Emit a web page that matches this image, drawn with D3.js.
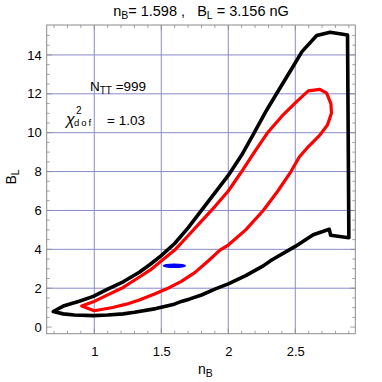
<!DOCTYPE html>
<html>
<head>
<meta charset="utf-8">
<script src="https://cdn.jsdelivr.net/npm/d3@7"></script>
<style>
  body { margin: 0; background: #fff; }
  svg text { font-family: "Liberation Sans", Arial, Helvetica, sans-serif; fill: #000; }
</style>
</head>
<body>
<div id="chart"></div>
<script>
// outer (black) contour
var blackNB = [0.694, 0.769, 0.888, 0.993, 1.10, 1.216, 1.336, 1.416, 1.50, 1.60, 1.70, 1.80, 1.90, 2.0, 2.10, 2.19, 2.287, 2.386, 2.47, 2.55, 2.66, 2.76, 2.89,
               2.90, 2.764, 2.754, 2.634, 2.50, 2.324, 2.261, 2.13, 2.0, 1.90, 1.80, 1.714, 1.65, 1.597, 1.46, 1.30, 1.216, 1.10, 0.993, 0.85, 0.769];
var blackBL = [0.80, 1.08, 1.33, 1.58, 1.95, 2.33, 2.82, 3.22, 3.68, 4.30, 5.10, 6.00, 6.90, 7.80, 8.85, 9.95, 11.17, 12.30, 13.25, 14.17, 15.0, 15.17, 15.03,
               4.60, 4.72, 5.03, 4.75, 4.15, 3.45, 3.15, 2.65, 2.22, 1.95, 1.65, 1.45, 1.32, 1.18, 0.95, 0.76, 0.68, 0.62, 0.59, 0.62, 0.68];

// inner (red) contour
var redNB = [0.906, 0.993, 1.10, 1.216, 1.311, 1.416, 1.50, 1.60, 1.70, 1.80, 1.90, 2.0, 2.09, 2.19, 2.29, 2.40, 2.51, 2.597, 2.684, 2.734, 2.766, 2.77, 2.74, 2.68, 2.60, 2.53, 2.468, 2.37, 2.261, 2.13, 2.0, 1.938, 1.85, 1.75, 1.65, 1.55, 1.45, 1.336, 1.24, 1.137, 1.0];
var redBL = [1.08, 1.30, 1.66, 2.04, 2.46, 2.93, 3.40, 3.96, 4.70, 5.45, 6.20, 7.0, 7.9, 8.95, 9.97, 10.85, 11.6, 12.15, 12.23, 12.03, 11.5, 11.0, 10.4, 9.85, 9.3, 8.75, 8.0, 7.0, 6.0, 5.0, 4.22, 3.96, 3.4, 2.8, 2.35, 2.0, 1.7, 1.39, 1.18, 1.01, 0.84];

// best fit point and its spread
var bestNB = 1.598, bestBL = 3.156;
var errNB = 0.087, errBL = 0.12;

var xTicks = [1, 1.5, 2, 2.5];
var xTickLabels = ["1", "1.5", "2", "2.5"];
var yTicks = [0, 2, 4, 6, 8, 10, 12, 14];
var yTickLabels = ["0", "2", "4", "6", "8", "10", "12", "14"];

var W = 382, H = 382;
var m = {left: 46.7, right: 26.7, top: 25, bottom: 48.3};

var svg = d3.select("#chart").append("svg")
    .attr("width", W).attr("height", H);

var x = d3.scaleLinear().domain([0.645, 2.948]).range([m.left, W - m.right]);
var y = d3.scaleLinear().domain([-0.34, 15.54]).range([H - m.bottom, m.top]);

var gridCol = "#8a8ac8";
var frameCol = "#8c8c8c";

// grid
svg.append("g").selectAll("line.gx")
    .data(xTicks).enter().append("line")
    .attr("x1", function(d) { return x(d); }).attr("x2", function(d) { return x(d); })
    .attr("y1", y.range()[0]).attr("y2", y.range()[1])
    .attr("stroke", gridCol).attr("stroke-width", 1);
svg.append("g").selectAll("line.gy")
    .data(yTicks.filter(function(d) { return d > 0; })).enter().append("line")
    .attr("y1", function(d) { return y(d); }).attr("y2", function(d) { return y(d); })
    .attr("x1", x.range()[0]).attr("x2", x.range()[1])
    .attr("stroke", gridCol).attr("stroke-width", 1);

// minor ticks, inward on all sides
var xMinor = d3.range(0.7, 2.95, 0.1);
var yMinor = d3.range(0, 15.5, 0.5);
var tk = svg.append("g").attr("stroke", frameCol).attr("stroke-width", 0.8);
xMinor.forEach(function(v) {
    var len = xTicks.some(function(t) { return Math.abs(t - v) < 1e-6; }) ? 5 : 3;
    tk.append("line").attr("x1", x(v)).attr("x2", x(v)).attr("y1", y.range()[0]).attr("y2", y.range()[0] - len);
    tk.append("line").attr("x1", x(v)).attr("x2", x(v)).attr("y1", y.range()[1]).attr("y2", y.range()[1] + len);
});
yMinor.forEach(function(v) {
    var len = (v % 2 === 0) ? 5 : 3;
    tk.append("line").attr("y1", y(v)).attr("y2", y(v)).attr("x1", x.range()[0]).attr("x2", x.range()[0] + len);
    tk.append("line").attr("y1", y(v)).attr("y2", y(v)).attr("x1", x.range()[1]).attr("x2", x.range()[1] - len);
});

// axes (labels only)
var xAxis = d3.axisBottom(x).tickValues(xTicks).tickSize(0).tickPadding(13)
    .tickFormat(function(d, i) { return xTickLabels[i]; });
var gx = svg.append("g").attr("transform", "translate(0," + y.range()[0] + ")").call(xAxis);
gx.select(".domain").remove();
gx.selectAll("text").attr("font-size", 13).attr("font-family", "Liberation Sans, Arial, sans-serif");

var yAxis = d3.axisLeft(y).tickValues(yTicks).tickSize(0).tickPadding(5)
    .tickFormat(function(d, i) { return yTickLabels[i]; });
var gy = svg.append("g").attr("transform", "translate(" + x.range()[0] + ",0)").call(yAxis);
gy.select(".domain").remove();
gy.selectAll("text").attr("font-size", 13).attr("font-family", "Liberation Sans, Arial, sans-serif");

// frame
svg.append("rect")
    .attr("x", x.range()[0]).attr("y", y.range()[1])
    .attr("width", x.range()[1] - x.range()[0]).attr("height", y.range()[0] - y.range()[1])
    .attr("fill", "none").attr("stroke", frameCol).attr("stroke-width", 1);

// contours
var line = d3.line()
    .x(function(d) { return x(d[0]); })
    .y(function(d) { return y(d[1]); })
    .curve(d3.curveLinearClosed);

svg.append("path")
    .datum(d3.zip(blackNB, blackBL))
    .attr("d", line)
    .attr("fill", "none").attr("stroke", "#000").attr("stroke-width", 3.6)
    .attr("stroke-linejoin", "round");

svg.append("path")
    .datum(d3.zip(redNB, redBL))
    .attr("d", line)
    .attr("fill", "none").attr("stroke", "#ff0000").attr("stroke-width", 3.2)
    .attr("stroke-linejoin", "round");

// best fit
svg.append("ellipse")
    .attr("cx", x(bestNB)).attr("cy", y(bestBL))
    .attr("rx", x(bestNB + errNB) - x(bestNB))
    .attr("ry", y(bestBL) - y(bestBL + errBL))
    .attr("fill", "#0000ff");

// title
var title = svg.append("text").attr("x", (x.range()[0] + x.range()[1]) / 2).attr("y", 16)
    .attr("text-anchor", "middle").attr("font-size", 14.5).attr("xml:space", "preserve");
title.append("tspan").text("n");
title.append("tspan").attr("dy", 3).attr("font-size", 10.5).text("B");
title.append("tspan").attr("dy", -3).text("= 1.598 ,   B");
title.append("tspan").attr("dy", 3).attr("font-size", 10.5).text("L");
title.append("tspan").attr("dy", -3).text(" = 3.156 nG");

// axis titles
var xl = svg.append("text").attr("x", 198).attr("y", 374).attr("font-size", 14);
xl.append("tspan").text("n");
xl.append("tspan").attr("dy", 3).attr("font-size", 10.5).text("B");

var yl = svg.append("text").attr("transform", "translate(16,177) rotate(-90)")
    .attr("text-anchor", "middle").attr("font-size", 14);
yl.append("tspan").text("B");
yl.append("tspan").attr("dy", 3).attr("font-size", 10.5).text("L");

// annotations
var t1 = svg.append("text").attr("x", 90).attr("y", 91).attr("font-size", 13.5);
t1.append("tspan").text("N");
t1.append("tspan").attr("dy", 3).attr("font-size", 10).text("TT");
t1.append("tspan").attr("dy", -3).text(" =999");

svg.append("text").attr("x", 66).attr("y", 125)
    .attr("font-family", "Liberation Serif, Times New Roman, serif")
    .attr("font-style", "italic").attr("font-size", 16).text("\u03c7");
svg.append("text").attr("x", 76).attr("y", 114).attr("font-size", 10).text("2");
svg.append("text").attr("x", 74).attr("y", 126).attr("font-size", 9.5)
    .attr("letter-spacing", 2).text("dof");
svg.append("text").attr("x", 107).attr("y", 125).attr("font-size", 13.5).text("= 1.03");
</script>
</body>
</html>
